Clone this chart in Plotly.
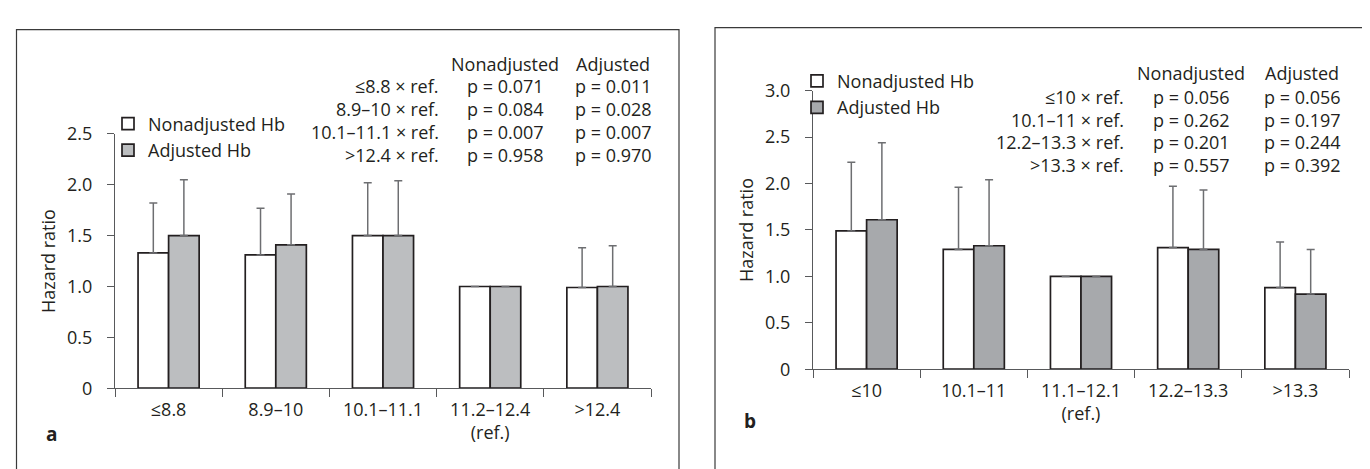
import math
import plotly.graph_objects as go

W, H = 1370, 469

# ---------------- data ----------------
cats_a = ["≤8.8", "8.9–10", "10.1–11.1", "11.2–12.4<br>(ref.)", ">12.4"]
nonadj_a = [1.33, 1.31, 1.50, 1.00, 0.99]
nonadj_a_upper = [1.82, 1.77, 2.02, None, 1.38]
adj_a = [1.50, 1.41, 1.50, 1.00, 1.00]
adj_a_upper = [2.05, 1.91, 2.04, None, 1.40]

cats_b = ["≤10", "10.1–11", "11.1–12.1<br>(ref.)", "12.2–13.3", ">13.3"]
nonadj_b = [1.49, 1.29, 1.00, 1.31, 0.88]
nonadj_b_upper = [2.23, 1.96, None, 1.97, 1.37]
adj_b = [1.61, 1.33, 1.00, 1.29, 0.81]
adj_b_upper = [2.44, 2.04, None, 1.93, 1.29]

yticks_a = [0, 0.5, 1.0, 1.5, 2.0, 2.5]
yticktext_a = ["0", "0.5", "1.0", "1.5", "2.0", "2.5"]
yticks_b = [0, 0.5, 1.0, 1.5, 2.0, 2.5, 3.0]
yticktext_b = ["0", "0.5", "1.0", "1.5", "2.0", "2.5", "3.0"]

table_header = ["Nonadjusted", "Adjusted"]
rows_a = ["≤8.8 × ref.", "8.9–10 × ref.", "10.1–11.1 × ref.", ">12.4 × ref."]
p_nonadj_a = ["p = 0.071", "p = 0.084", "p = 0.007", "p = 0.958"]
p_adj_a = ["p = 0.011", "p = 0.028", "p = 0.007", "p = 0.970"]
rows_b = ["≤10 × ref.", "10.1–11 × ref.", "12.2–13.3 × ref.", ">13.3 × ref."]
p_nonadj_b = ["p = 0.056", "p = 0.262", "p = 0.201", "p = 0.557"]
p_adj_b = ["p = 0.056", "p = 0.197", "p = 0.244", "p = 0.392"]

# ---------------- style ----------------
FONT = "Open Sans"
FS = 18
TXT = "#231f20"
OUTLINE = "#231f20"
AXC = "#58595b"
ERRC = "#6d6e71"
GRAY_A = "#bcbec0"
GRAY_B = "#a7a9ac"


def px(x):
    return x / W


def py(y):
    return 1 - y / H


def err_plus(vals, upper):
    return [(u - v) if u is not None else float("nan") for v, u in zip(vals, upper)]


def err_minus(vals, upper):
    return [0 if u is not None else float("nan") for v, u in zip(vals, upper)]


fig = go.Figure()


def add_bars(cats, vals, upper, name, fill, xa, ya, legend):
    fig.add_trace(go.Bar(
        x=cats, y=vals, name=name, xaxis=xa, yaxis=ya, legend=legend,
        marker=dict(color=fill, line=dict(color=OUTLINE, width=1.7)),
        error_y=dict(type="data", symmetric=False,
                     array=err_plus(vals, upper),
                     arrayminus=err_minus(vals, upper),
                     color=ERRC, thickness=1.5, width=4),
    ))


add_bars(cats_a, nonadj_a, nonadj_a_upper, "Nonadjusted Hb", "white", "x", "y", "legend")
add_bars(cats_a, adj_a, adj_a_upper, "Adjusted Hb", GRAY_A, "x", "y", "legend")
add_bars(cats_b, nonadj_b, nonadj_b_upper, "Nonadjusted Hb", "white", "x2", "y2", "legend2")
add_bars(cats_b, adj_b, adj_b_upper, "Adjusted Hb", GRAY_B, "x2", "y2", "legend2")

# pixel geometry of the two plot areas
ax_a = dict(x0=107, x1=643, y0=387, ytop=119)
ax_b = dict(x0=805, x1=1341, y0=367, ytop=73.5)

xaxis_common = dict(
    type="category", range=[-0.5, 4.5], showline=True, linecolor=AXC, linewidth=1,
    ticks="outside", tickson="boundaries", ticklen=8, tickcolor=AXC, tickwidth=1,
    showgrid=False, zeroline=False, fixedrange=True,
    tickfont=dict(family=FONT, size=FS, color=TXT), ticklabelstandoff=5,
)
yaxis_common = dict(
    showline=True, linecolor=AXC, linewidth=1, ticks="outside", ticklen=7,
    tickcolor=AXC, tickwidth=1, showgrid=False, zeroline=False,
    tickfont=dict(family=FONT, size=FS, color=TXT), ticklabelstandoff=11,
    title=dict(text="Hazard ratio", font=dict(family=FONT, size=FS, color=TXT), standoff=6),
)

fig.update_layout(
    width=W, height=H, margin=dict(l=0, r=0, t=0, b=0),
    paper_bgcolor="white", plot_bgcolor="white",
    barmode="group", bargap=0.43, bargroupgap=0,
    font=dict(family=FONT, size=FS, color=TXT),
    xaxis=dict(xaxis_common, domain=[px(ax_a["x0"]), px(ax_a["x1"])], anchor="y"),
    yaxis=dict(yaxis_common, domain=[py(ax_a["y0"]), py(ax_a["ytop"])], range=[0, 2.5],
               tickvals=yticks_a, ticktext=yticktext_a, anchor="x"),
    xaxis2=dict(xaxis_common, domain=[px(ax_b["x0"]), px(ax_b["x1"])], anchor="y2"),
    yaxis2=dict(yaxis_common, domain=[py(ax_b["y0"]), py(ax_b["ytop"])], range=[0, 3.0],
                tickvals=yticks_b, ticktext=yticktext_b, anchor="x2"),
    legend=dict(x=px(100), y=py(89), xanchor="left", yanchor="top",
                bgcolor="rgba(0,0,0,0)", borderwidth=0, tracegroupgap=0,
                font=dict(family=FONT, size=FS, color=TXT)),
    legend2=dict(x=px(789), y=py(44), xanchor="left", yanchor="top",
                 bgcolor="rgba(0,0,0,0)", borderwidth=0, tracegroupgap=0,
                 font=dict(family=FONT, size=FS, color=TXT)),
    showlegend=True,
)

# panel frames (open at the bottom, running off the picture)
fig.add_shape(type="rect", xref="paper", yref="paper",
              x0=px(8.5), x1=px(671), y0=py(475), y1=py(9),
              line=dict(color="#3a3a3a", width=1.2), fillcolor="rgba(0,0,0,0)", layer="below")
fig.add_shape(type="rect", xref="paper", yref="paper",
              x0=px(707), x1=px(1367), y0=py(475), y1=py(7),
              line=dict(color="#3a3a3a", width=1.2), fillcolor="rgba(0,0,0,0)", layer="below")


def table(label_right, c1, c2, y_header, y_rows, labels, col1, col2):
    font = dict(family=FONT, size=FS, color=TXT)
    common = dict(xref="paper", yref="paper", showarrow=False, yanchor="middle",
                  font=font, borderpad=0)
    fig.add_annotation(x=px(c1), y=py(y_header), text=table_header[0], xanchor="center", **common)
    fig.add_annotation(x=px(c2), y=py(y_header), text=table_header[1], xanchor="center", **common)
    for i, (lab, a, b) in enumerate(zip(labels, col1, col2)):
        yy = py(y_rows[i])
        fig.add_annotation(x=px(label_right), y=yy, text=lab, xanchor="right", **common)
        fig.add_annotation(x=px(c1), y=yy, text=a, xanchor="center", **common)
        fig.add_annotation(x=px(c2), y=yy, text=b, xanchor="center", **common)


table(432, 497, 605, 45, [69, 93, 117, 141], rows_a, p_nonadj_a, p_adj_a)
table(1117, 1183, 1294, 55, [80, 104, 128, 152], rows_b, p_nonadj_b, p_adj_b)

fig.add_annotation(x=px(43), y=py(435), xref="paper", yref="paper", text="<b>a</b>",
                   showarrow=False, xanchor="center", yanchor="middle",
                   font=dict(family=FONT, size=FS + 1, color=TXT))
fig.add_annotation(x=px(742), y=py(422), xref="paper", yref="paper", text="<b>b</b>",
                   showarrow=False, xanchor="center", yanchor="middle",
                   font=dict(family=FONT, size=FS + 1, color=TXT))

fig.write_html("out.html")
